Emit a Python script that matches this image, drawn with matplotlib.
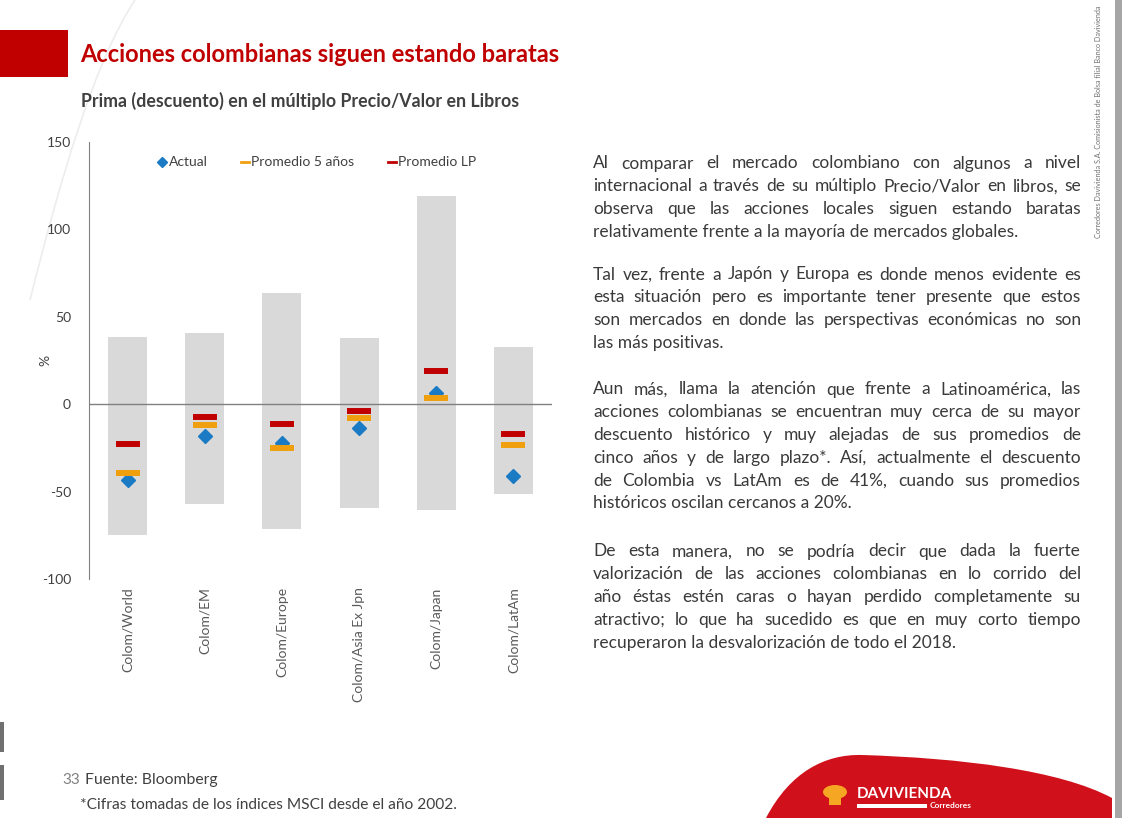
import numpy as np
import matplotlib
matplotlib.use("Agg")
from matplotlib import pyplot as plt
from matplotlib.lines import Line2D
from matplotlib.patches import Rectangle, PathPatch, Ellipse
from matplotlib.path import Path
from matplotlib.font_manager import FontProperties

plt.rcParams['font.family'] = ['Lato', 'DejaVu Sans']

# data (% premium / discount of P/BV multiple)
categories = ['Colom/World', 'Colom/EM', 'Colom/Europe', 'Colom/Asia Ex Jpn', 'Colom/Japan', 'Colom/LatAm']
range_max = [38.3, 40.4, 63.4, 37.5, 118.9, 32.4]
range_min = [-74.7, -57.3, -71.4, -59.6, -60.6, -51.6]
actual = [-43.4, -18.5, -22.3, -13.9, 6.3, -41.3]
prom_5y = [-39.4, -11.8, -25.3, -8.2, 3.4, -23.4]
prom_lp = [-23.0, -7.6, -11.6, -4.2, 18.7, -17.3]
y_ticks = [-100, -50, 0, 50, 100, 150]

W, H = 1122, 818
fig = plt.figure(figsize=(W / 100, H / 100), dpi=100)

# background / decoration layer in pixel coords
bg = fig.add_axes([0, 0, 1, 1])
bg.set_xlim(0, W)
bg.set_ylim(H, 0)
bg.axis('off')

# faint swoosh line
arc = Path([(135, 0), (95, 60), (60, 180), (30, 300)],
           [Path.MOVETO, Path.CURVE4, Path.CURVE4, Path.CURVE4])
bg.add_patch(PathPatch(arc, fill=False, ec='#EDEDED', lw=1.2))

bg.add_patch(Rectangle((0, 30), 68, 47, color='#C00000', lw=0))
bg.text(80, 54, 'Acciones colombianas siguen estando baratas', color='#C00000',
        fontsize=17, fontweight='bold', va='center', ha='left')
bg.text(81, 101, 'Prima (descuento) en el múltiplo Precio/Valor en Libros', color='#404040',
        fontsize=12.8, fontweight='bold', va='center', ha='left')

# right-hand commentary, justified
paragraphs = [
    (162, ["Al comparar el mercado colombiano con algunos a nivel",
           "internacional a través de su múltiplo Precio/Valor en libros, se",
           "observa que las acciones locales siguen estando baratas",
           "relativamente frente a la mayoría de mercados globales."]),
    (273, ["Tal vez, frente a Japón y Europa es donde menos evidente es",
           "esta situación pero es importante tener presente que estos",
           "son mercados en donde las perspectivas económicas no son",
           "las más positivas."]),
    (388, ["Aun más, llama la atención que frente a Latinoamérica, las",
           "acciones colombianas se encuentran muy cerca de su mayor",
           "descuento histórico y muy alejadas de sus promedios de",
           "cinco años y de largo plazo*. Así, actualmente el descuento",
           "de Colombia vs LatAm es de 41%, cuando sus promedios",
           "históricos oscilan cercanos a 20%."]),
    (550, ["De esta manera, no se podría decir que dada la fuerte",
           "valorización de las acciones colombianas en lo corrido del",
           "año éstas estén caras o hayan perdido completamente su",
           "atractivo;  lo que ha sucedido es que en muy corto tiempo",
           "recuperaron la desvalorización de todo el 2018."]),
]
x_left, x_right, line_h = 593, 1081, 22.8
body_fs = 12.5
renderer = fig.canvas.get_renderer()
prop = FontProperties(family=['Lato', 'DejaVu Sans'], size=body_fs)


def text_w(s):
    w, h, d = renderer.get_text_width_height_descent(s, prop, ismath=False)
    return w


for y0, lines in paragraphs:
    for i, line in enumerate(lines):
        y = y0 + i * line_h
        if i == len(lines) - 1:
            bg.text(x_left, y, line, fontsize=body_fs, color='#3A3A3A', va='center_baseline')
            continue
        words = line.split()
        widths = [text_w(w) for w in words]
        gap = (x_right - x_left - sum(widths)) / (len(words) - 1)
        x = x_left
        for w, wd in zip(words, widths):
            bg.text(x, y, w, fontsize=body_fs, color='#3A3A3A', va='center_baseline')
            x += wd + gap

# footer
bg.text(62, 780, '33', fontsize=11, color='#808080', va='center')
bg.text(85, 780, 'Fuente: Bloomberg', fontsize=11.3, color='#404040', va='center')
bg.text(80, 805, '*Cifras tomadas de los índices MSCI desde el año 2002.', fontsize=11.2,
        color='#404040', va='center')
bg.add_patch(Rectangle((0, 722), 4, 30, color='#707070', lw=0))
bg.add_patch(Rectangle((0, 765), 4, 35, color='#707070', lw=0))

# logo swoosh
sw = Path([(766, 818), (790, 772), (825, 754), (862, 755),
           (960, 758), (1060, 770), (1112, 798),
           (1112, 818), (766, 818)],
          [Path.MOVETO, Path.CURVE4, Path.CURVE4, Path.CURVE4,
           Path.CURVE4, Path.CURVE4, Path.CURVE4,
           Path.LINETO, Path.CLOSEPOLY])
bg.add_patch(PathPatch(sw, fc='#D0111B', ec='none'))
bg.add_patch(Ellipse((835, 792), 24, 14, color='#F5A623', lw=0))
bg.add_patch(Rectangle((829, 792), 12, 13, color='#F5A623', lw=0))
bg.text(857, 794, 'DAVIVIENDA', fontsize=11, color='white', va='center', fontweight='bold')
bg.add_patch(Rectangle((857, 804), 70, 4, color='white', lw=0))
bg.text(930, 806, 'Corredores', fontsize=6, color='white', va='center', fontweight='bold')

# right side strip and fine print
bg.add_patch(Rectangle((1115, 0), 7, H, color='#A6A6A6', lw=0))
bg.text(1099, 122, 'Corredores Davivienda S.A. Comisionista de Bolsa filial Banco Davivienda',
        fontsize=5.2, color='#707070', rotation=90, ha='center', va='center')

# chart
ax = fig.add_axes([89 / W, 1 - 579 / H, (552 - 89) / W, (579 - 141.7) / H])
ax.patch.set_alpha(0)
x = np.arange(len(categories))
lo = np.array(range_min)
hi = np.array(range_max)
ax.bar(x, hi - lo, bottom=lo, width=0.505, color='#D9D9D9', zorder=1)
ax.axhline(0, color='#808080', lw=1, zorder=2)
ax.plot(x, actual, ls='none', marker='D', ms=7, color='#1A7BC4', zorder=3)
ax.plot(x, prom_5y, ls='none', marker='_', ms=17, mew=4.3, color='#F0A00E', zorder=4)
ax.plot(x, prom_lp, ls='none', marker='_', ms=17, mew=4.3, color='#C00000', zorder=5)

ax.set_xlim(-0.5, len(categories) - 0.5)
ax.set_ylim(-100, 150)
ax.set_yticks(y_ticks)
ax.set_yticklabels([str(v) for v in y_ticks])
ax.set_xticks(x)
ax.set_xticklabels(categories, rotation=90, va='top', ha='center')
ax.tick_params(axis='y', length=0, pad=13, labelsize=10, labelcolor='#404040')
ax.tick_params(axis='x', length=0, pad=6, labelsize=10, labelcolor='#595959')
for s in ['top', 'right', 'bottom']:
    ax.spines[s].set_visible(False)
ax.spines['left'].set_color('#808080')
ax.set_ylabel('%', fontsize=10, color='#404040')
ax.yaxis.set_label_coords(-0.082, 0.50)

handles = [Line2D([], [], ls='none', marker='D', ms=5, color='#1A7BC4'),
           Line2D([], [], color='#F0A00E', lw=2),
           Line2D([], [], color='#C00000', lw=2)]
ax.legend(handles, ['Actual', 'Promedio 5 años', 'Promedio LP'], loc='upper center',
          bbox_to_anchor=(0.493, 0.995), ncol=3, frameon=False, fontsize=10,
          handlelength=0.6, handletextpad=0.15, columnspacing=2.4, labelcolor='#404040')

fig.savefig('out.png', dpi=100)
